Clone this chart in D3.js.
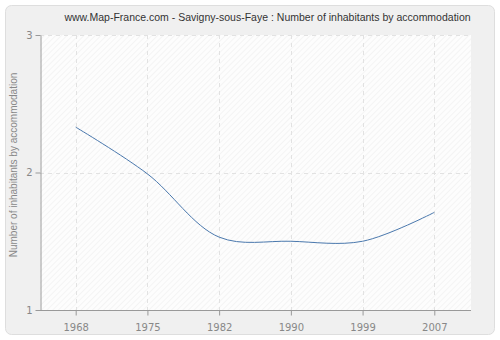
<!DOCTYPE html>
<html>
  <meta charset="utf-8" />
  <head>
    <script src="https://d3js.org/d3.v7.min.js"></script>
    <style>
      body {
        margin: 0;
        background: #fff;
      }
      .tick text {
        font-family: "DejaVu Sans", sans-serif;
      }
      .label {
        font-family: "Liberation Sans", Arial, sans-serif;
      }
    </style>
  </head>
  <body>
    <svg id="chart" width="500" height="340"></svg>
    <script>
      // data
      const years = ["1968", "1975", "1982", "1990", "1999", "2007"];
      const values = [2.33, 1.99, 1.53, 1.5, 1.5, 1.71];
      const yTicks = [1, 2, 3];

      const svg = d3.select("#chart");
      const plotLeft = 40,
        plotRight = 471,
        plotTop = 35,
        plotBottom = 310;

      // hatch pattern for the plot area
      const defs = svg.append("defs");
      const pat = defs
        .append("pattern")
        .attr("id", "hatch")
        .attr("patternUnits", "userSpaceOnUse")
        .attr("width", 4)
        .attr("height", 4)
        .attr("patternTransform", "rotate(45)");
      pat.append("rect").attr("width", 4).attr("height", 4).attr("fill", "#fdfdfd");
      pat
        .append("line")
        .attr("x1", 0)
        .attr("y1", 0)
        .attr("x2", 0)
        .attr("y2", 4)
        .attr("stroke", "#efefef")
        .attr("stroke-width", 1.2);

      // outer panel
      svg
        .append("rect")
        .attr("x", 5.5)
        .attr("y", 5.5)
        .attr("width", 489)
        .attr("height", 329)
        .attr("rx", 6)
        .attr("fill", "#f0f0f0")
        .attr("stroke", "#dedede");

      svg
        .append("rect")
        .attr("x", plotLeft)
        .attr("y", plotTop)
        .attr("width", plotRight - plotLeft)
        .attr("height", plotBottom - plotTop)
        .attr("fill", "url(#hatch)");

      const x = d3
        .scalePoint()
        .domain(years)
        .range([75.7, 434.3]);

      const y = d3.scaleLinear().domain([1, 3]).range([plotBottom, plotTop]);

      // grid
      svg
        .append("g")
        .selectAll("line")
        .data(years)
        .join("line")
        .attr("x1", (d) => Math.round(x(d)) + 0.5)
        .attr("x2", (d) => Math.round(x(d)) + 0.5)
        .attr("y1", plotTop)
        .attr("y2", plotBottom)
        .attr("stroke", "#e2e2e2")
        .attr("stroke-dasharray", "4,4");

      svg
        .append("g")
        .selectAll("line")
        .data(yTicks.slice(1))
        .join("line")
        .attr("x1", plotLeft)
        .attr("x2", plotRight)
        .attr("y1", (d) => Math.round(y(d)) + 0.5)
        .attr("y2", (d) => Math.round(y(d)) + 0.5)
        .attr("stroke", "#e2e2e2")
        .attr("stroke-dasharray", "4,4");

      // axes
      const xAxis = svg
        .append("g")
        .attr("transform", `translate(0, ${plotBottom + 0.5})`)
        .call(d3.axisBottom(x).tickSize(5).tickSizeOuter(0));
      xAxis.select(".domain").attr("d", `M${plotLeft},0H${plotRight}`);

      const yAxis = svg
        .append("g")
        .attr("transform", `translate(${plotLeft + 0.5}, 0)`)
        .call(
          d3
            .axisLeft(y)
            .tickValues(yTicks)
            .tickFormat(d3.format("d"))
            .tickSize(5)
            .tickSizeOuter(0)
        );

      svg.selectAll(".domain").attr("stroke", "#999");
      svg.selectAll(".tick line").attr("stroke", "#999");
      svg
        .selectAll(".tick text")
        .attr("fill", "#888")
        .attr("font-size", 10);
      xAxis.selectAll(".tick text").attr("dy", "1.2em");

      // line
      const line = d3
        .line()
        .x((d, i) => x(years[i]))
        .y((d) => y(d))
        .curve(d3.curveCatmullRom);

      svg
        .append("path")
        .datum(values)
        .attr("d", line)
        .attr("fill", "none")
        .attr("stroke", "#4a78ad")
        .attr("stroke-width", 1);

      // titles
      svg
        .append("text")
        .attr("class", "label")
        .attr("x", 267.5)
        .attr("y", 21)
        .attr("text-anchor", "middle")
        .attr("font-size", 10.5)
        .attr("fill", "#333")
        .text("www.Map-France.com - Savigny-sous-Faye : Number of inhabitants by accommodation");

      svg
        .append("text")
        .attr("class", "label")
        .attr("transform", "rotate(-90)")
        .attr("x", -165)
        .attr("y", 17)
        .attr("text-anchor", "middle")
        .attr("font-size", 10)
        .attr("fill", "#888")
        .text("Number of inhabitants by accommodation");
    </script>
  </body>
</html>
